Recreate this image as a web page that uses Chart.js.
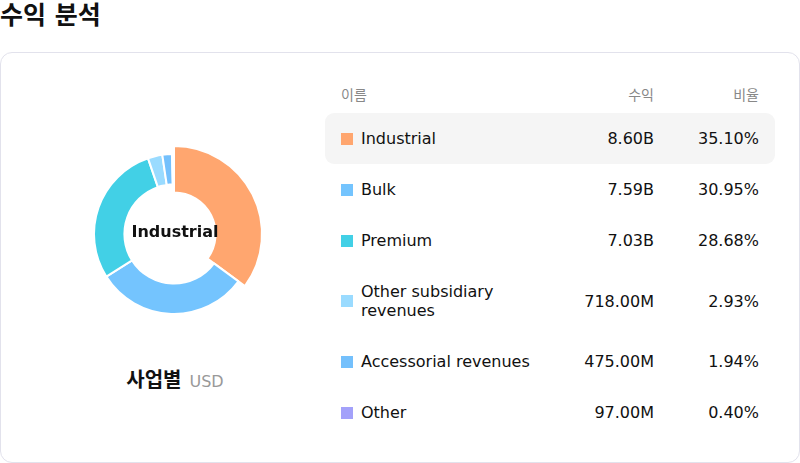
<!DOCTYPE html>
<html>
<head>
<meta charset="utf-8">
<script src="https://cdn.jsdelivr.net/npm/chart.js@4/dist/chart.umd.min.js"></script>
<style>
  body { margin: 0; background: #fff; font-family: "DejaVu Sans", "Noto Sans CJK KR", sans-serif; color: #111; }
  .title { position: absolute; left: 0; top: 0; font-size: 25px; font-weight: bold; line-height: 31px; }
  .card { position: absolute; left: 0; top: 52px; width: 798px; height: 409px; border: 1px solid #e2e2ec; border-radius: 12px; }
  #donutBox { position: absolute; left: 75px; top: 134px; width: 200px; height: 200px; }
  .center { position: absolute; left: 75px; top: 222px; width: 200px; text-align: center; font-size: 16px; font-weight: bold; line-height: 20px; }
  .caption { position: absolute; left: 25px; top: 366px; width: 300px; text-align: center; line-height: 28px; }
  .caption b { font-size: 20px; }
  .caption span { font-size: 16px; color: #999; margin-left: 8px; }
  .tbl { position: absolute; left: 325px; top: 85px; width: 450px; }
  .row { display: flex; align-items: center; padding: 15.75px 16px; border-radius: 9px; font-size: 16px; line-height: 19.5px; }
  .row.head { padding: 0 16px; font-size: 14px; line-height: 20px; color: #888; margin-bottom: 8px; }
  .row.active { background: #f5f5f5; }
  .name { width: 200px; display: flex; align-items: center; }
  .name i { width: 12px; height: 12px; flex: none; margin-right: 8px; }
  .name div { max-width: 180px; }
  .rev { width: 113px; text-align: right; }
  .pct { width: 105px; text-align: right; }
</style>
</head>
<body>
<div class="title">수익 분석</div>
<div class="card"></div>
<div id="donutBox"><canvas id="donut"></canvas></div>
<div class="center" id="centerLabel"></div>
<div class="caption"><b>사업별</b><span>USD</span></div>
<div class="tbl" id="tbl"></div>
<script>
const segments = ['Industrial', 'Bulk', 'Premium', 'Other subsidiary revenues', 'Accessorial revenues', 'Other'];
const revenue = [8600000000, 7590000000, 7030000000, 718000000, 475000000, 97000000];
const revenueLabels = ['8.60B', '7.59B', '7.03B', '718.00M', '475.00M', '97.00M'];
const shareLabels = ['35.10%', '30.95%', '28.68%', '2.93%', '1.94%', '0.40%'];
const colors = ['#FFA66F', '#74C4FE', '#42D0E6', '#9ADBFF', '#74C0FC', '#A3A1FA'];
const activeIndex = 0;

// table on the right
let html = '<div class="row head"><div class="name">이름</div><div class="rev">수익</div><div class="pct">비율</div></div>';
segments.forEach(function (s, i) {
    html += '<div class="row' + (i === activeIndex ? ' active' : '') + '">' +
        '<div class="name"><i style="background:' + colors[i] + '"></i><div>' + s + '</div></div>' +
        '<div class="rev">' + revenueLabels[i] + '</div>' +
        '<div class="pct">' + shareLabels[i] + '</div></div>';
});
document.getElementById('tbl').innerHTML = html;
document.getElementById('centerLabel').textContent = segments[activeIndex];

// make the selected slice thicker
const emphasis = {
    id: 'emphasis',
    afterDatasetUpdate(chart, args) {
        const arc = args.meta.data[activeIndex];
        if (!arc) return;
        arc.outerRadius += 8;
        arc.innerRadius -= 8;
    }
};

new Chart(document.getElementById('donut'), {
    type: 'doughnut',
    data: {
        labels: segments,
        datasets: [{
            data: revenue,
            backgroundColor: colors,
            borderColor: '#fff',
            borderWidth: 2
        }]
    },
    options: {
        responsive: true,
        maintainAspectRatio: false,
        animation: false,
        cutout: '62%',
        layout: { padding: { left: 18, right: 20, top: 19, bottom: 19 } },
        plugins: { legend: { display: false }, tooltip: { enabled: false } },
        events: []
    },
    plugins: [emphasis]
});
</script>
</body>
</html>
